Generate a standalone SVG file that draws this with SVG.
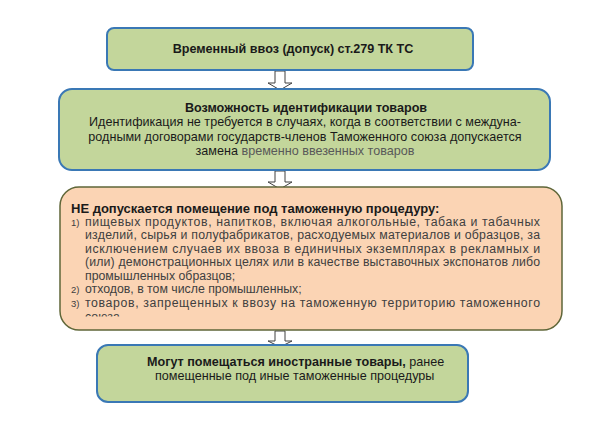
<svg xmlns="http://www.w3.org/2000/svg" width="605" height="424" viewBox="0 0 605 424">
<defs>
<style>
.g{fill:#c3d69b;stroke:#3a78b5;stroke-width:2}
.p{fill:#fbd4b4;stroke:#5f6638;stroke-width:1.5}
.arr{fill:#fff;stroke:#404040;stroke-width:1}
text{font-family:"Liberation Sans",Arial,sans-serif;fill:#1a1a1a}
.b{font-weight:bold}
.t{font-size:12.6px}
.h{font-size:13px}
.l{font-size:12.3px;fill:#404040}
.n{font-size:9.5px;fill:#404040}
.gr{fill:#595959}
</style>
<clipPath id="cut"><rect x="60" y="300" width="500" height="16.5"/></clipPath>
</defs>
<rect width="605" height="424" fill="#fff"/>
<g id="connectors">
<path class="arr" d="M275,71 H285 V83 H292 L280,90 L268,83 H275 Z"/>
<path class="arr" d="M275,171 H285 V182 H292 L280,189 L268,182 H275 Z"/>
<path class="arr" d="M275,331 H285 V341 H292 L280,347 L268,341 H275 Z"/>
</g>
<g id="n1">
<rect class="g" x="107" y="28" width="366" height="42" rx="7"/>
<text class="t b" x="293" y="53" text-anchor="middle">Временный ввоз (допуск) ст.279 ТК ТС</text>
</g>
<g id="n2">
<rect class="g" x="59" y="89" width="491" height="81" rx="13"/>
<text class="t b" x="306" y="112" text-anchor="middle">Возможность идентификации товаров</text>
<text class="t" x="305" y="126" text-anchor="middle">Идентификация не требуется в случаях, когда в соответствии с междуна-</text>
<text class="t" x="305" y="141" text-anchor="middle">родными договорами государств-членов Таможенного союза допускается</text>
<text class="t" x="305" y="155" text-anchor="middle">замена <tspan class="gr">временно ввезенных товаров</tspan></text>
</g>
<g id="n3">
<rect class="p" x="60" y="187" width="502" height="143" rx="19"/>
<text class="h b" x="71" y="212.5">НЕ допускается помещение под таможенную процедуру:</text>
<text class="n" x="71" y="225.5">1)</text>
<text class="l" x="85" y="225.5" textLength="455" lengthAdjust="spacing">пищевых продуктов, напитков, включая алкогольные, табака и табачных</text>
<text class="l" x="85" y="239" textLength="455" lengthAdjust="spacing">изделий, сырья и полуфабрикатов, расходуемых материалов и образцов, за</text>
<text class="l" x="85" y="252.5" textLength="455" lengthAdjust="spacing">исключением случаев их ввоза в единичных экземплярах в рекламных и</text>
<text class="l" x="85" y="266" textLength="455" lengthAdjust="spacing">(или) демонстрационных целях или в качестве выставочных экспонатов либо</text>
<text class="l" x="85" y="279.5">промышленных образцов;</text>
<text class="n" x="71" y="293">2)</text>
<text class="l" x="85" y="293">отходов, в том числе промышленных;</text>
<text class="n" x="71" y="306.5">3)</text>
<text class="l" x="85" y="306.5" textLength="455" lengthAdjust="spacing">товаров, запрещенных к ввозу на таможенную территорию таможенного</text>
<text class="l" x="85" y="320.5" clip-path="url(#cut)">союза</text>
</g>
<g id="n4">
<rect class="g" x="97" y="345" width="371" height="57" rx="11"/>
<text class="t" x="147" y="366"><tspan class="b">Могут помещаться иностранные товары,</tspan> ранее</text>
<text class="t" x="155" y="380">помещенные под иные таможенные процедуры</text>
</g>
</svg>
